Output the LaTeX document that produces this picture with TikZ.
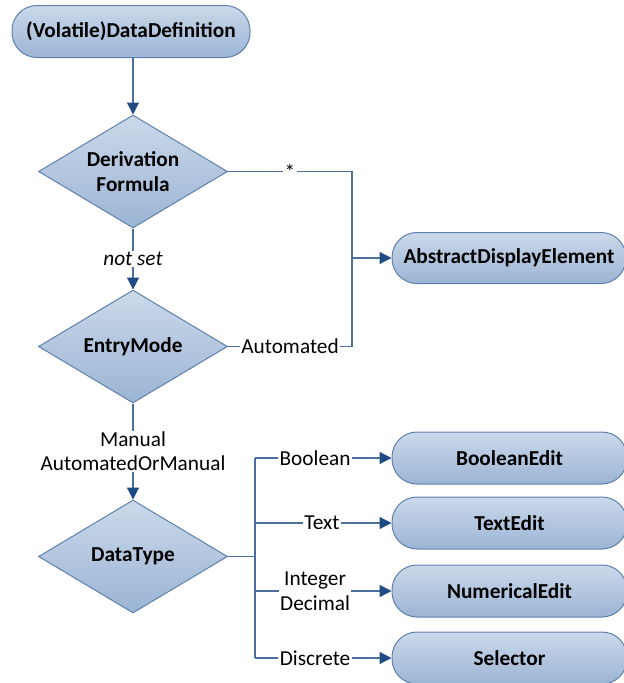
\documentclass[tikz,border=0pt]{standalone}
\usepackage{fontspec}
\setmainfont{Carlito}
\usetikzlibrary{shapes.geometric,arrows.meta}
\definecolor{lineblue}{HTML}{4A6FA0}
\definecolor{tipblue}{HTML}{1F4B85}
\definecolor{filltop}{HTML}{CBD9EA}
\definecolor{fillbot}{HTML}{9BB4D4}
\definecolor{edgeblue}{HTML}{5F80AC}
\begin{document}
\begin{tikzpicture}[x=1pt,y=-1pt,
  font=\fontsize{21.3}{24}\selectfont,
  stadium/.style={rectangle,rounded corners=25pt,draw=edgeblue,line width=1pt,
    top color=filltop,bottom color=fillbot,font=\fontsize{21.3}{24}\selectfont\bfseries,
    minimum height=52pt,inner sep=0pt},
  decision/.style={diamond,draw=edgeblue,line width=1pt,top color=filltop,bottom color=fillbot,
    minimum width=189pt,minimum height=113pt,inner sep=0pt,aspect=1.67,
    font=\fontsize{21.3}{25}\selectfont\bfseries,align=center},
  conn/.style={draw=lineblue,line width=1.2pt},
  arr/.style={conn,arrows={-{Triangle[length=12pt,width=12pt,color=tipblue]}}},
  lbl/.style={fill=white,inner sep=1.5pt,align=center,font=\fontsize{21.3}{24}\selectfont}
]
\useasboundingbox (0,0) rectangle (624,683);
\node[stadium,minimum width=238pt] (top) at (131,31.5) {(Volatile)DataDefinition};
\node[decision] (df) at (133,171.5) {Derivation\\Formula};
\node[decision] (em) at (133,346.5) {EntryMode};
\node[decision] (dt) at (133,556.5) {DataType};
\node[stadium,minimum width=234pt,minimum height=51pt] (ade) at (509,258) {AbstractDisplayElement};
\node[stadium,minimum width=235pt] (be) at (509.5,458) {BooleanEdit};
\node[stadium,minimum width=235pt] (te) at (509.5,523) {TextEdit};
\node[stadium,minimum width=235pt] (ne) at (509.5,591) {NumericalEdit};
\node[stadium,minimum width=235pt] (se) at (509.5,658) {Selector};

\coordinate (j1) at (352,171.5);
\coordinate (j2) at (352,346.5);
\coordinate (j3) at (352,258);
\coordinate (jd) at (255,556.5);
\coordinate (jb) at (255,458);
\coordinate (jt) at (255,523);
\coordinate (jn) at (255,591);
\coordinate (js) at (255,658);

\draw[arr] (df.north |- top.south) -- (df.north);
\draw[arr] (df.south) -- node[lbl,font=\fontsize{21.3}{24}\selectfont\itshape]{not set} (em.north);
\draw[conn] (df.east) -- node[lbl]{*} (j1) -- (j2) -- node[lbl]{Automated} (em.east);
\draw[arr] (j3) -- (ade.west);
\draw[arr] (em.south) -- node[lbl,font=\fontsize{21.3}{24}\selectfont]{Manual\\AutomatedOrManual} (dt.north);
\draw[conn] (dt.east) -- (jd);
\draw[conn] (jb) -- (js);
\draw[arr] (jb) -- node[lbl,pos=0.44]{Boolean} (be.west);
\draw[arr] (jt) -- node[lbl,pos=0.49]{Text} (te.west);
\draw[arr] (jn) -- node[lbl,pos=0.44,font=\fontsize{21.3}{25}\selectfont]{Integer\\Decimal} (ne.west);
\draw[arr] (js) -- node[lbl,pos=0.44]{Discrete} (se.west);
\end{tikzpicture}
\end{document}
